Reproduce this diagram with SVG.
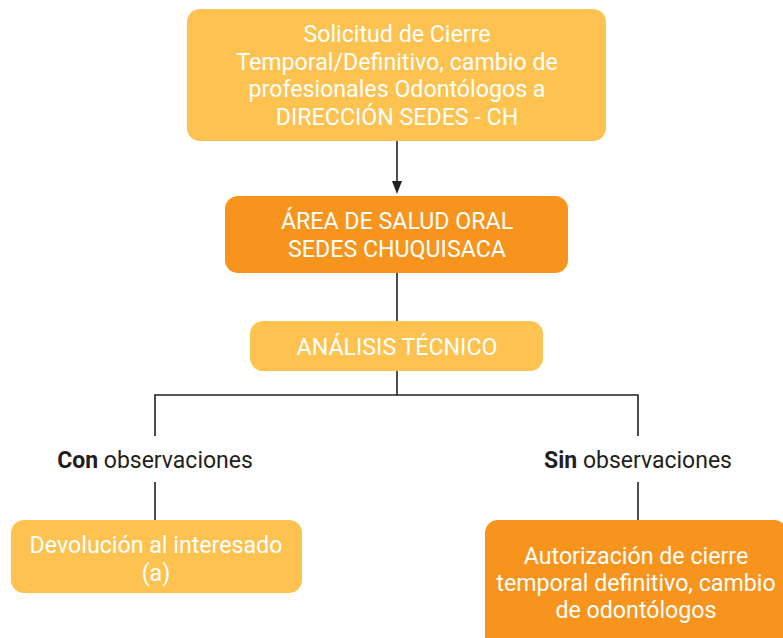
<svg xmlns="http://www.w3.org/2000/svg" width="783" height="638" viewBox="0 0 783 638">
<defs>
<style>
.light{fill:#FDC24F}
.dark{fill:#F7941D}
.bt{font-family:Roboto,"Liberation Sans",sans-serif;font-size:23.2px;fill:#FFFFFF;text-anchor:middle}
.lb{font-family:Roboto,"Liberation Sans",sans-serif;font-size:23px;fill:#231F20;text-anchor:middle}
.ln{stroke:#231F20;stroke-width:1.6;fill:none}
</style>
</defs>
<rect width="783" height="638" fill="#FFFFFF"/>
<g id="connectors">
<line class="ln" x1="397" y1="141" x2="397" y2="182"/>
<path d="M392,181 L402,181 L397,194 Z" fill="#231F20"/>
<line class="ln" x1="397" y1="273" x2="397" y2="321"/>
<polyline class="ln" points="155,436 155,395 638,395 638,436"/>
<line class="ln" x1="397" y1="371" x2="397" y2="395"/>
<line class="ln" x1="155" y1="482" x2="155" y2="520"/>
<line class="ln" x1="638" y1="482" x2="638" y2="520"/>
</g>
<g id="n1">
<rect class="light" x="187" y="9" width="419" height="132" rx="13"/>
<text class="bt" x="397" y="42">Solicitud de Cierre</text>
<text class="bt" x="397" y="69.5">Temporal/Definitivo, cambio de</text>
<text class="bt" x="397" y="97">profesionales Odontólogos a</text>
<text class="bt" x="397" y="124.5">DIRECCIÓN SEDES - CH</text>
</g>
<g id="n2">
<rect class="dark" x="225" y="196" width="343" height="77" rx="13"/>
<text class="bt" x="397" y="229">ÁREA DE SALUD ORAL</text>
<text class="bt" x="397" y="257">SEDES CHUQUISACA</text>
</g>
<g id="n3">
<rect class="light" x="250" y="321" width="293" height="50" rx="13"/>
<text class="bt" x="397" y="355">ANÁLISIS TÉCNICO</text>
</g>
<g id="l1">
<text class="lb" x="155" y="468"><tspan font-weight="bold">Con</tspan> observaciones</text>
</g>
<g id="l2">
<text class="lb" x="638" y="468"><tspan font-weight="bold">Sin</tspan> observaciones</text>
</g>
<g id="n4">
<rect class="light" x="11" y="520" width="291" height="73" rx="13"/>
<text class="bt" x="156" y="553">Devolución al interesado</text>
<text class="bt" x="156" y="581">(a)</text>
</g>
<g id="n5">
<rect class="dark" x="485" y="520" width="302" height="130" rx="13"/>
<text class="bt" x="636" y="564">Autorización de cierre</text>
<text class="bt" x="636" y="591">temporal definitivo, cambio</text>
<text class="bt" x="636" y="618">de odontólogos</text>
</g>
</svg>
